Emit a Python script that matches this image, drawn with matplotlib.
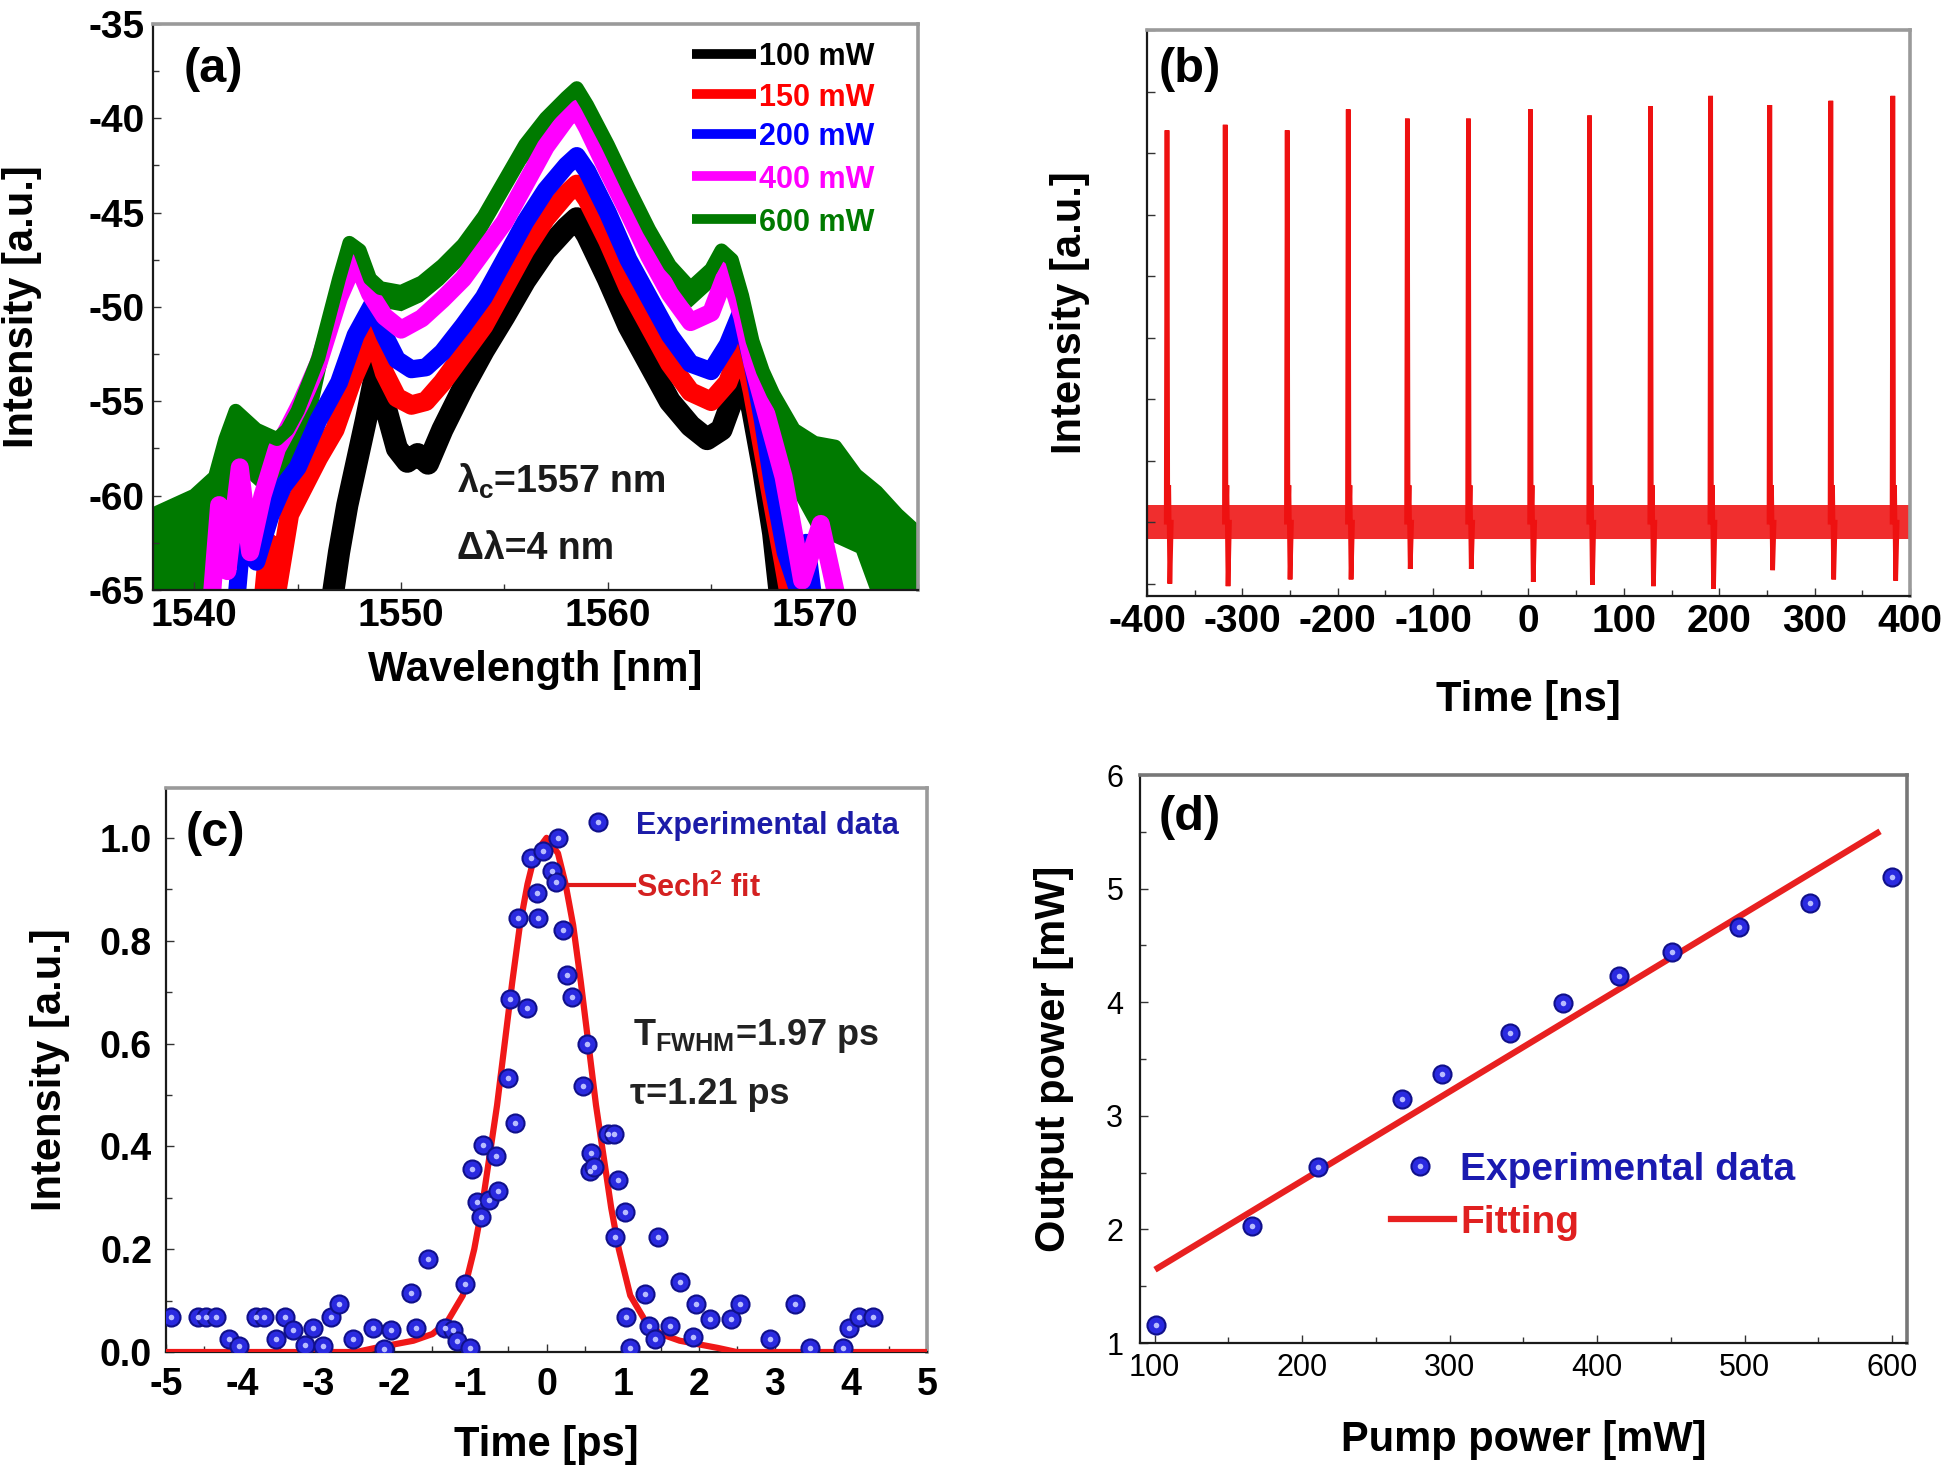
import matplotlib
matplotlib.use('Agg')
import matplotlib.pyplot as plt
from matplotlib.ticker import MultipleLocator, NullFormatter

plt.rcParams['font.family'] = ['Liberation Sans', 'DejaVu Sans']
plt.rcParams['font.weight'] = 'bold'
plt.rcParams['axes.labelweight'] = 'bold'
plt.rcParams['mathtext.default'] = 'regular'
plt.rcParams['axes.unicode_minus'] = False

# ---------------- data (a): spectra ----------------
wl_100 = [1546.6, 1547.0, 1547.4, 1547.8, 1548.3, 1548.8, 1549.3, 1549.8, 1550.3, 1550.8, 1551.3, 1552.0,
          1553.0, 1554.0, 1555.0, 1556.0, 1557.0, 1558.0, 1558.5, 1559.0, 1560.0, 1561.0, 1562.0, 1563.0,
          1564.0, 1564.8, 1565.5, 1566.0, 1566.6, 1567.0, 1567.5, 1568.0, 1568.4]
p_100 = [-66, -63, -60.5, -58.5, -56, -53.3, -55.5, -57.5, -58.2, -57.8, -58.3, -56.5,
         -54.3, -52.3, -50.5, -48.6, -47, -45.8, -45.3, -46.2, -48.5, -51, -53, -55,
         -56.3, -57, -56.5, -55, -53.5, -55.5, -58.5, -62, -66]

wl_150 = [1543.3, 1543.6, 1544.0, 1544.6, 1545.3, 1546.0, 1546.8, 1547.6, 1548.2, 1548.6, 1549.2, 1549.8,
          1550.5, 1551.2, 1552.0, 1553.0, 1554.0, 1555.0, 1556.0, 1557.0, 1558.0, 1558.5, 1559.0, 1560.0,
          1561.0, 1562.0, 1563.0, 1564.0, 1565.0, 1565.8, 1566.5, 1567.0, 1567.5, 1568.0, 1568.5, 1568.9]
p_150 = [-66, -62.5, -65, -61, -59.5, -58, -56.5, -54, -52.5, -51.3, -53.5, -54.8,
         -55.2, -55, -54, -52.5, -51, -49, -47, -45.3, -44, -43.5, -44.3, -46.5,
         -49, -51, -53, -54.5, -55, -54, -52, -54.5, -57.5, -60.5, -63.5, -66]

wl_200 = [1542.0, 1542.4, 1543.0, 1543.7, 1544.3, 1545.0, 1546.0, 1547.0, 1547.8, 1548.6, 1549.2, 1549.8,
          1550.5, 1551.2, 1552.0, 1553.0, 1554.0, 1555.0, 1556.0, 1557.0, 1558.0, 1558.5, 1559.0, 1560.0,
          1561.0, 1562.0, 1563.0, 1564.0, 1565.0, 1565.8, 1566.4, 1567.0, 1567.5, 1568.0, 1568.6, 1569.2,
          1569.6, 1570.0]
p_200 = [-66, -61, -63.5, -61, -59.5, -58.5, -56, -54, -51.5, -49.9, -51.5, -52.8,
         -53.3, -53.2, -52.4, -51, -49.5, -47.5, -45.5, -43.8, -42.5, -42, -42.8, -45,
         -47.5, -49.5, -51.5, -53, -53.4, -52, -50.4, -53, -56, -59.5, -63, -65,
         -62.5, -66]

wl_400 = [1540.8, 1541.2, 1541.6, 1542.2, 1542.7, 1543.3, 1544.0, 1544.5, 1545.2, 1546.0, 1547.0, 1547.8,
          1548.5, 1549.2, 1550.0, 1551.0, 1552.0, 1553.0, 1554.0, 1555.0, 1556.0, 1557.0, 1558.0, 1558.5,
          1559.0, 1560.0, 1561.0, 1562.0, 1563.0, 1564.0, 1565.0, 1565.8, 1566.5, 1567.0, 1567.5, 1568.0,
          1568.5, 1569.0, 1569.4, 1570.3, 1570.8, 1571.2]
p_400 = [-66, -60.5, -64, -58.5, -63, -60, -57.5, -56.5, -55, -53, -49.5, -47.5,
         -49.3, -50.5, -51.2, -50.6, -49.6, -48.5, -47, -45.5, -43.5, -41.5, -40, -39.5,
         -40.5, -42.8, -45, -47.3, -49.3, -50.8, -50.3, -48, -50.5, -53, -55, -57,
         -59, -62, -64.5, -61.5, -64, -66]

wl_600 = [1538.0, 1539.0, 1540.0, 1541.0, 1541.5, 1542.0, 1542.5, 1543.0, 1544.0, 1544.5, 1545.0, 1546.0,
          1547.0, 1547.5, 1548.0, 1548.5, 1549.0, 1550.0, 1551.0, 1552.0, 1553.0, 1554.0, 1555.0, 1556.0,
          1557.0, 1558.0, 1558.5, 1559.0, 1560.0, 1561.0, 1562.0, 1563.0, 1564.0, 1565.0, 1565.5, 1566.0,
          1566.5, 1567.0, 1567.5, 1568.0, 1569.0, 1570.0, 1571.0, 1572.0, 1573.0, 1574.0, 1575.0]
p_600 = [-61, -60.5, -60, -59, -57, -55.5, -56, -56.5, -57, -56.5, -55.5, -52.7,
         -48.5, -46.6, -47, -48.5, -49, -49.2, -48.7, -47.8, -46.7, -45.2, -43.3, -41.4,
         -40, -38.9, -38.4, -39.3, -41.4, -43.7, -45.9, -47.8, -49, -48, -47, -47.5,
         -49.4, -51.8, -53.4, -54.6, -56.5, -57.2, -57.4, -58.9, -59.8, -61, -62]
# lower edge of the noisy 600 mW trace (same wavelengths as wl_600)
p_600_floor = [-66, -66, -66, -65, -62, -59, -59, -59.5, -59.5, -59, -58, -55,
               -50, -47.5, -48, -49.5, -50, -50.2, -49.7, -48.8, -47.7, -46.2, -44.3, -42.4,
               -41, -39.9, -39.4, -40.3, -42.4, -44.7, -46.9, -48.8, -50, -49, -48, -48.5,
               -50.4, -53, -55, -57, -60, -62, -62.5, -63, -66, -66, -66]

series_labels = ['100 mW', '150 mW', '200 mW', '400 mW', '600 mW']
series_colors = ['#000000', '#ff0000', '#0000ff', '#ff00ff', '#007a00']

# ---------------- data (b): pulse train ----------------
pulse_t = [-379, -318, -253, -189, -127, -63, 2, 64, 128, 191, 253, 317, 382]
pulse_peak = [7.37, 7.46, 7.37, 7.71, 7.56, 7.56, 7.71, 7.61, 7.76, 7.93, 7.78, 7.85, 7.93]
pulse_dip = [0.0, -0.04, 0.07, 0.07, 0.24, 0.24, 0.03, -0.02, -0.04, -0.08, 0.22, 0.07, 0.05]
baseline = 1.0
noise_lo = 0.72
noise_hi = 1.28
overshoot = 1.6

# ---------------- data (c): autocorrelation ----------------
ct = [-4.93, -4.58, -4.47, -4.34, -4.17, -4.04, -3.82, -3.71, -3.55, -3.44, -3.33, -3.18, -3.07,
      -2.94, -2.83, -2.73, -2.54, -2.28, -2.14, -2.04, -1.78, -1.71, -1.56, -1.34, -1.23, -1.18,
      -1.01, -1.07, -0.98, -0.92, -0.83, -0.86, -0.75, -0.64, -0.66, -0.50, -0.42, -0.48, -0.37,
      -0.26, -0.20, -0.13, -0.11, -0.04, 0.07, 0.13, 0.155, 0.22, 0.27, 0.33, 0.48, 0.53, 0.57,
      0.59, 0.63, 0.81, 0.88, 0.90, 0.94, 1.03, 1.05, 1.10, 1.29, 1.34, 1.43, 1.47, 1.62, 1.75,
      1.93, 1.97, 2.15, 2.43, 2.54, 2.94, 3.27, 3.46, 3.90, 3.97, 4.10, 4.29]
cI = [0.068, 0.068, 0.068, 0.068, 0.025, 0.011, 0.068, 0.068, 0.025, 0.068, 0.043, 0.014, 0.047,
      0.011, 0.068, 0.094, 0.025, 0.047, 0.005, 0.043, 0.115, 0.047, 0.18, 0.047, 0.043, 0.022,
      0.007, 0.133, 0.356, 0.291, 0.403, 0.263, 0.295, 0.313, 0.381, 0.532, 0.446, 0.687, 0.845,
      0.669, 0.960, 0.892, 0.845, 0.975, 0.935, 0.914, 1.0, 0.82, 0.734, 0.69, 0.518, 0.60, 0.353,
      0.388, 0.36, 0.424, 0.424, 0.223, 0.335, 0.273, 0.068, 0.007, 0.112, 0.05, 0.025, 0.223, 0.05,
      0.137, 0.029, 0.094, 0.065, 0.065, 0.094, 0.025, 0.094, 0.007, 0.007, 0.047, 0.068, 0.068]
fit_t = [-5, -2.5, -2.25, -2.0, -1.75, -1.5, -1.3, -1.1, -0.95, -0.85, -0.75, -0.65, -0.55, -0.45,
         -0.35, -0.25, -0.15, 0, 0.15, 0.25, 0.35, 0.45, 0.55, 0.65, 0.75, 0.85, 0.95, 1.1, 1.3,
         1.5, 1.75, 2.0, 2.25, 2.5, 5]
fit_I = [0, 0, 0.008, 0.015, 0.022, 0.035, 0.06, 0.11, 0.2, 0.28, 0.38, 0.48, 0.60, 0.72,
         0.83, 0.91, 0.97, 1.0, 0.97, 0.91, 0.83, 0.72, 0.60, 0.48, 0.38, 0.28, 0.2, 0.11, 0.06,
         0.035, 0.022, 0.015, 0.008, 0, 0]

# ---------------- data (d): output power ----------------
pump = [101, 166, 211, 268, 295, 341, 377, 415, 451, 496, 544, 600]
outp = [1.16, 2.03, 2.55, 3.15, 3.37, 3.73, 3.99, 4.23, 4.44, 4.66, 4.87, 5.10]
fit_x = [102, 590]
fit_y = [1.66, 5.49]

# ---------------- figure ----------------
fig = plt.figure(figsize=(19.46, 14.72), dpi=100)
axA = fig.add_axes([0.0786, 0.5992, 0.3931, 0.3845])
axB = fig.add_axes([0.5894, 0.5951, 0.3921, 0.3845])
axC = fig.add_axes([0.0853, 0.0815, 0.3911, 0.3832])
axD = fig.add_axes([0.5858, 0.0876, 0.3941, 0.3859])

RED = '#ee1111'
BLUE_M = '#2a2ae0'


def style(ax, size=28, xpad=6, ypad=6):
    for s in ['left', 'bottom']:
        ax.spines[s].set_color('#1a1a1a')
        ax.spines[s].set_linewidth(1.6)
    for s in ['top', 'right']:
        ax.spines[s].set_color('#9a9a9a')
        ax.spines[s].set_linewidth(2.6)
    ax.tick_params(which='both', direction='in', top=False, right=False, width=1.0, color='#333333')
    ax.tick_params(which='major', length=6)
    ax.tick_params(which='minor', length=4)
    ax.tick_params(axis='x', pad=xpad, labelsize=size)
    ax.tick_params(axis='y', pad=ypad, labelsize=size)


def labels(ax, xl, yl, xy, yx, size=30):
    ax.set_xlabel(xl, fontsize=size, fontweight='bold')
    ax.set_ylabel(yl, fontsize=size, fontweight='bold')
    ax.xaxis.set_label_coords(0.5, xy)
    ax.yaxis.set_label_coords(yx, 0.5)
    ax.xaxis.label.set_va('center')
    ax.yaxis.label.set_va('center')
    ax.yaxis.label.set_ha('center')


def marker(ax, x, y):
    ax.plot(x, y, 'o', ls='none', ms=13, mfc=BLUE_M, mec='#10108a', mew=1.5, zorder=5)
    ax.plot(x, y, 'o', ls='none', ms=4, mfc='#b8bcff', mec='none', zorder=6)


# ---- (a) ----
ax = axA
wls = [wl_100, wl_150, wl_200, wl_400, wl_600]
pws = [p_100, p_150, p_200, p_400, p_600]
lws = [16, 14, 13, 13, 10]
ax.fill_between(wl_600, p_600_floor, p_600, color=series_colors[4], lw=0, zorder=1.5)
for w, p, c, lw, lab in zip(wls, pws, series_colors, lws, series_labels):
    ax.plot(w, p, color=c, lw=lw, label=lab, solid_joinstyle='round', zorder=2)
ax.set_xlim(1538, 1575)
ax.set_ylim(-65, -35)
ax.xaxis.set_major_locator(MultipleLocator(10))
ax.xaxis.set_minor_locator(MultipleLocator(5))
ax.yaxis.set_major_locator(MultipleLocator(5))
ax.yaxis.set_minor_locator(MultipleLocator(2.5))
style(ax, 28, xpad=6, ypad=6)
labels(ax, 'Wavelength [nm]', 'Intensity [a.u.]', -0.141, -0.171)
ax.text(0.04, 0.92, '(a)', transform=ax.transAxes, fontsize=35, fontweight='bold', ha='left', va='center')
leg_y = [0.947, 0.876, 0.806, 0.731, 0.655]
for yy, c, lab in zip(leg_y, series_colors, series_labels):
    ax.plot([0.705, 0.788], [yy, yy], color=c, lw=7, transform=ax.transAxes, solid_capstyle='butt')
    ax.text(0.792, yy, lab, color=c, fontsize=22, fontweight='bold', transform=ax.transAxes,
            ha='left', va='center_baseline')
ax.text(1552.7, -59.0, 'λ$_{c}$=1557 nm', fontsize=27, fontweight='bold', color='#1a1a1a',
        ha='left', va='center_baseline', zorder=10)
ax.text(1552.7, -62.6, 'Δλ=4 nm', fontsize=27, fontweight='bold', color='#1a1a1a',
        ha='left', va='center_baseline', zorder=10)

# ---- (b) ----
ax = axB
ax.fill_between([-400, 400], [noise_lo, noise_lo], [noise_hi, noise_hi], color=RED, lw=0, alpha=0.88)
for t, pk, dp in zip(pulse_t, pulse_peak, pulse_dip):
    ax.plot([t - 0.8, t, t + 0.8, t + 1.8, t + 3.0, t + 4.5],
            [baseline, pk, baseline, overshoot, dp, baseline], color=RED, lw=3.4,
            solid_joinstyle='miter')
ax.set_xlim(-400, 400)
ax.set_ylim(-0.2, 9.0)
ax.xaxis.set_major_locator(MultipleLocator(100))
ax.xaxis.set_minor_locator(MultipleLocator(50))
ax.yaxis.set_major_locator(MultipleLocator(1))
ax.yaxis.set_major_formatter(NullFormatter())
style(ax, 28, xpad=6, ypad=6)
labels(ax, 'Time [ns]', 'Intensity [a.u.]', -0.184, -0.101)
ax.text(0.015, 0.93, '(b)', transform=ax.transAxes, fontsize=35, fontweight='bold', ha='left', va='center')

# ---- (c) ----
ax = axC
ax.plot(fit_t, fit_I, color='#f01818', lw=4.5, zorder=3, solid_joinstyle='round')
marker(ax, ct, cI)
ax.set_xlim(-5, 5)
ax.set_ylim(0, 1.097)
ax.xaxis.set_major_locator(MultipleLocator(1))
ax.xaxis.set_minor_locator(MultipleLocator(0.5))
ax.yaxis.set_minor_locator(MultipleLocator(0.1))
ax.set_yticks([0, 0.2, 0.4, 0.6, 0.8, 1.0])
ax.set_yticklabels(['0.0', '0.2', '0.4', '0.6', '0.8', '1.0'])
style(ax, 27, xpad=11, ypad=10)
labels(ax, 'Time [ps]', 'Intensity [a.u.]', -0.165, -0.152)
ax.text(0.026, 0.92, '(c)', transform=ax.transAxes, fontsize=35, fontweight='bold', ha='left', va='center')
marker(ax, [0.68], [1.03])
ax.text(1.18, 1.03, 'Experimental data', color='#1c1ca8', fontsize=22, fontweight='bold',
        ha='left', va='center_baseline')
ax.plot([0.245, 1.15], [0.908, 0.908], color='#e01a1a', lw=3, zorder=4)
ax.text(1.18, 0.908, 'Sech$^{2}$ fit', color='#d42020', fontsize=22, fontweight='bold',
        ha='left', va='center_baseline')
ax.text(1.14, 0.624, 'T$_{FWHM}$=1.97 ps', color='#222222', fontsize=26, fontweight='bold',
        ha='left', va='center_baseline')
ax.text(1.10, 0.508, 'τ=1.21 ps', color='#222222', fontsize=26, fontweight='bold',
        ha='left', va='center_baseline')

# ---- (d) ----
ax = axD
ax.plot(fit_x, fit_y, color='#e82020', lw=4.5, zorder=3)
marker(ax, pump, outp)
ax.set_xlim(90, 610)
ax.set_ylim(1, 6)
ax.xaxis.set_major_locator(MultipleLocator(100))
ax.xaxis.set_minor_locator(MultipleLocator(50))
ax.yaxis.set_major_locator(MultipleLocator(1))
ax.yaxis.set_minor_locator(MultipleLocator(0.5))
style(ax, 22, xpad=7, ypad=12)
for lbl in ax.get_xticklabels() + ax.get_yticklabels():
    lbl.set_fontweight('normal')
for s in ['top', 'right']:
    ax.spines[s].set_color('#777777')
labels(ax, 'Pump power [mW]', 'Output power [mW]', -0.171, -0.112)
ax.text(0.024, 0.926, '(d)', transform=ax.transAxes, fontsize=35, fontweight='bold', ha='left', va='center')
marker(ax, [280], [2.56])
ax.text(307, 2.56, 'Experimental data', color='#1a1ab0', fontsize=28, fontweight='bold',
        ha='left', va='center_baseline')
ax.plot([260, 303], [2.09, 2.09], color='#e82020', lw=4.5)
ax.text(307, 2.09, 'Fitting', color='#e02020', fontsize=28, fontweight='bold',
        ha='left', va='center_baseline')

fig.savefig('out.png', dpi=100)
